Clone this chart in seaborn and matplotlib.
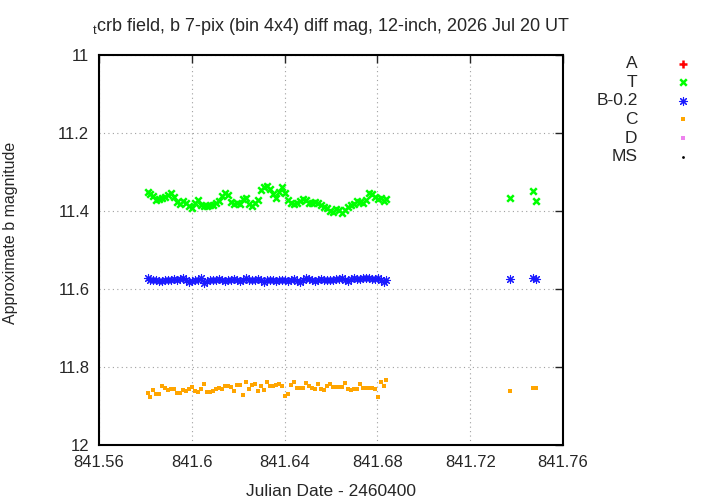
import matplotlib
matplotlib.use("Agg")
import matplotlib.pyplot as plt
import seaborn as sns
import numpy as np

# observation times (JD - 2460400)
jd = [841.5811, 841.5820, 841.5833, 841.5846, 841.5859, 841.5872, 841.5884, 841.5897,
      841.5910, 841.5923, 841.5936, 841.5949, 841.5962, 841.5975, 841.5988, 841.6001,
      841.6014, 841.6027, 841.6040, 841.6053, 841.6066, 841.6078, 841.6091, 841.6104,
      841.6117, 841.6130, 841.6143, 841.6156, 841.6169, 841.6182, 841.6195, 841.6208,
      841.6221, 841.6234, 841.6247, 841.6259, 841.6272, 841.6285, 841.6298, 841.6311,
      841.6324, 841.6337, 841.6350, 841.6363, 841.6376, 841.6389, 841.6402, 841.6415,
      841.6428, 841.6440, 841.6453, 841.6466, 841.6479, 841.6492, 841.6505, 841.6518,
      841.6531, 841.6544, 841.6557, 841.6570, 841.6583, 841.6596, 841.6609, 841.6621,
      841.6634, 841.6647, 841.6660, 841.6673, 841.6686, 841.6699, 841.6712, 841.6725,
      841.6738, 841.6751, 841.6764, 841.6777, 841.6790, 841.6802, 841.6815, 841.6828,
      841.6837, 841.7371, 841.7471, 841.7483]

mag_t = [11.351, 11.356, 11.362, 11.372, 11.369, 11.367, 11.364, 11.359,
         11.354, 11.364, 11.377, 11.382, 11.374, 11.379, 11.387, 11.392,
         11.379, 11.372, 11.385, 11.387, 11.387, 11.385, 11.385, 11.379,
         11.374, 11.362, 11.354, 11.359, 11.377, 11.382, 11.379, 11.382,
         11.369, 11.367, 11.382, 11.387, 11.379, 11.372, 11.346, 11.338,
         11.336, 11.344, 11.356, 11.367, 11.351, 11.338, 11.354, 11.372,
         11.379, 11.382, 11.379, 11.374, 11.369, 11.372, 11.379, 11.379,
         11.377, 11.379, 11.385, 11.390, 11.392, 11.400, 11.403, 11.395,
         11.397, 11.405, 11.397, 11.390, 11.385, 11.382, 11.374, 11.377,
         11.379, 11.372, 11.354, 11.356, 11.364, 11.369, 11.367, 11.374,
         11.369, 11.367, 11.349, 11.374]

mag_b = [11.572, 11.576, 11.578, 11.577, 11.580, 11.579, 11.578, 11.576,
         11.577, 11.575, 11.576, 11.574, 11.573, 11.576, 11.583, 11.580,
         11.578, 11.576, 11.571, 11.585, 11.579, 11.577, 11.576, 11.578,
         11.575, 11.577, 11.580, 11.576, 11.578, 11.574, 11.576, 11.579,
         11.577, 11.572, 11.577, 11.578, 11.576, 11.574, 11.577, 11.581,
         11.578, 11.576, 11.578, 11.579, 11.577, 11.578, 11.576, 11.579,
         11.578, 11.575, 11.579, 11.581, 11.576, 11.573, 11.575, 11.577,
         11.580, 11.578, 11.575, 11.576, 11.577, 11.578, 11.576, 11.574,
         11.575, 11.571, 11.576, 11.580, 11.574, 11.572, 11.574, 11.575,
         11.573, 11.571, 11.572, 11.574, 11.575, 11.573, 11.577, 11.582,
         11.576, 11.574, 11.571, 11.575]

mag_c = [11.867, 11.877, 11.859, 11.869, 11.869, 11.849, 11.854, 11.859,
         11.856, 11.856, 11.867, 11.867, 11.859, 11.862, 11.856, 11.851,
         11.862, 11.864, 11.856, 11.844, 11.864, 11.864, 11.862, 11.856,
         11.854, 11.856, 11.849, 11.849, 11.851, 11.862, 11.846, 11.846,
         11.872, 11.838, 11.856, 11.846, 11.844, 11.862, 11.849, 11.859,
         11.838, 11.849, 11.849, 11.846, 11.844, 11.849, 11.874, 11.869,
         11.846, 11.838, 11.854, 11.854, 11.854, 11.841, 11.849, 11.854,
         11.856, 11.844, 11.856, 11.859, 11.849, 11.844, 11.851, 11.851,
         11.851, 11.851, 11.841, 11.856, 11.859, 11.856, 11.856, 11.844,
         11.854, 11.854, 11.854, 11.854, 11.856, 11.877, 11.838, 11.849,
         11.833, 11.862, 11.854, 11.854]

x_ticks = [841.56, 841.6, 841.64, 841.68, 841.72, 841.76]
y_ticks = [11, 11.2, 11.4, 11.6, 11.8, 12]

sns.set_style("white")
plt.rcParams['font.family'] = ['Liberation Sans', 'DejaVu Sans']
plt.rcParams['mathtext.fontset'] = 'custom'
plt.rcParams['mathtext.rm'] = 'Liberation Sans'

fig = plt.figure(figsize=(7.2, 5.04), dpi=100)
ax = fig.add_axes([99 / 720, 1 - 445 / 504, 464 / 720, 390 / 504])

sns.scatterplot(x=jd, y=mag_t, ax=ax, marker='x', color='#00ff00', s=22,
                linewidth=1.8, label='T', zorder=3)
sns.scatterplot(x=jd, y=mag_b, ax=ax, marker=(8, 2, 0), color='#1a1aff', s=34,
                linewidth=0.8, label='B-0.2', zorder=3)
sns.scatterplot(x=jd, y=mag_c, ax=ax, marker='s', color='#ffa500', s=9,
                linewidth=0, label='C', zorder=3)
# series with no points in range, legend only
ax.scatter([], [], marker='+', color='#ff0000', s=26, linewidth=1.8, label='A')
ax.scatter([], [], marker='s', color='#ee82ee', s=9, linewidth=0, label='D')
ax.scatter([], [], marker='o', color='black', s=4, linewidth=0, label='MS')

ax.set_xlim(841.56, 841.76)
ax.set_ylim(12, 11)
ax.set_xticks(x_ticks)
ax.set_yticks(y_ticks)
ax.set_xticklabels([f'{v:g}' for v in x_ticks])
ax.set_yticklabels([f'{v:g}' for v in y_ticks])
ax.tick_params(direction='in', length=6, width=1, top=True, right=True,
               labelsize=12, pad=7)
ax.grid(True, linestyle=(0, (1, 3)), color='#a0a0a0', linewidth=0.8)
for sp in ax.spines.values():
    sp.set_linewidth(1.5)
    sp.set_color('black')

ax.set_xlabel('Julian Date - 2460400', fontsize=12.5, labelpad=10)
ax.set_ylabel('Approximate b magnitude', fontsize=11.5)
ax.yaxis.set_label_coords(-81 / 464, (445 - 233) / 390)
ax.set_title(r'$_\mathrm{t}$crb field, b 7-pix (bin 4x4) diff mag, 12-inch, 2026 Jul 20 UT',
             fontsize=13, pad=17)

handles, labels = ax.get_legend_handles_labels()
order = ['A', 'T', 'B-0.2', 'C', 'D', 'MS']
hmap = dict(zip(labels, handles))
ax.legend([hmap[k] for k in order], order, loc='upper right',
          bbox_to_anchor=(700 / 720, 1 - 56 / 504), bbox_transform=fig.transFigure,
          frameon=False, markerfirst=False, fontsize=12.5, handletextpad=1.6,
          labelspacing=0.2, borderpad=0, borderaxespad=0, scatterpoints=1)

fig.savefig('out.png', dpi=100)
